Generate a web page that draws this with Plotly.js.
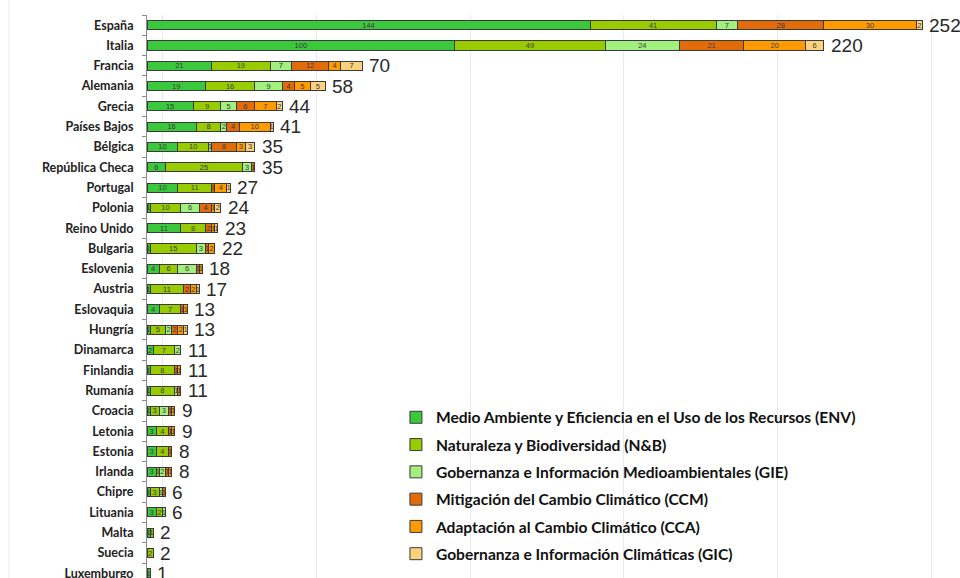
<!DOCTYPE html>
<html>
<head>
<meta charset="utf-8">
<script src="https://cdn.plot.ly/plotly-3.0.1.min.js"></script>
<style>html,body{margin:0;padding:0;background:#fff;}#chart{width:960px;height:578px;}</style>
</head>
<body>
<div id="chart"></div>
<script>
const countries = ["España","Italia","Francia","Alemania","Grecia","Países Bajos","Bélgica","República Checa","Portugal","Polonia","Reino Unido","Bulgaria","Eslovenia","Austria","Eslovaquia","Hungría","Dinamarca","Finlandia","Rumanía","Croacia","Letonia","Estonia","Irlanda","Chipre","Lituania","Malta","Suecia","Luxemburgo"];
const env = [144,100,21,19,15,16,10,6,10,1,11,1,4,1,4,1,2,1,1,1,3,3,3,1,3,1,0,1];
const nb  = [41,49,19,16,9,8,10,25,11,10,8,15,6,11,7,5,7,8,8,3,4,4,1,3,2,1,2,0];
const gie = [7,24,7,9,5,2,1,3,0,6,0,3,6,0,0,2,2,0,1,3,0,0,2,1,1,0,0,0];
const ccm = [28,21,12,4,6,4,8,1,1,4,2,1,1,2,1,2,0,1,1,1,1,1,1,1,0,0,0,0];
const cca = [30,20,4,5,7,10,3,0,4,1,1,2,1,2,1,2,0,1,0,1,1,0,1,0,0,0,0,0];
const gic = [2,6,7,5,2,1,3,0,1,2,1,0,0,1,0,1,0,0,0,0,0,0,0,0,0,0,0,0];
const seriesNames = ["Medio Ambiente y Eficiencia en el Uso de los Recursos (ENV)","Naturaleza y Biodiversidad (N&B)","Gobernanza e Información Medioambientales (GIE)","Mitigación del Cambio Climático (CCM)","Adaptación al Cambio Climático (CCA)","Gobernanza e Información Climáticas (GIC)"];
const seriesColors = ["#3cc83c","#99cc00","#a2f07e","#e36c0a","#ff9a00","#fcd27e"];

const seriesVals = [env,nb,gie,ccm,cca,gic];
const totals = countries.map((c,i)=>seriesVals.reduce((s,a)=>s+a[i],0));

const traces = seriesVals.map((vals,k)=>({
  type:'bar', orientation:'h', name: seriesNames[k], legendgroup:'g'+k,
  y: countries, x: vals,
  text: vals.map(v=> v>0 ? String(v) : ''),
  textposition:'inside', insidetextanchor:'middle', textangle:0, constraintext:'none',
  textfont:{size:7.5, color:'#3a3a3a', family:'Liberation Sans, Arial'},
  marker:{color: seriesColors[k], line:{color:'#3a3a3a', width:1}},
  hoverinfo:'x+y+name'
}));

const annotations = countries.map((c,i)=>({
  x: totals[i], y: c, xref:'x', yref:'y', text: String(totals[i]),
  showarrow:false, xanchor:'left', yanchor:'middle', xshift:5,
  font:{size:19, color:'#2a2a2a', family:'Liberation Sans, Arial'}
}));

const layout = {
  width:960, height:578,
  margin:{l:147, r:10, t:15, b:0},
  paper_bgcolor:'#fff', plot_bgcolor:'#fff',
  barmode:'stack', bargap:0.55,
  showlegend:true,
  annotations: annotations,
  legend:{x:0.31, xanchor:'left', y:0.315, yanchor:'top', traceorder:'grouped', tracegroupgap:4,
    font:{family:'Lato, Open Sans, sans-serif', size:15.6, color:'#111', weight:'bold'},
    bgcolor:'rgba(255,255,255,0)', itemwidth:30},
  xaxis:{range:[0,261], tickvals:[5,55,105,155,205,255], showticklabels:false, showgrid:true,
    gridcolor:'#e8e8f3', gridwidth:1, zeroline:false, showline:false, ticks:''},
  yaxis:{type:'category', autorange:false, range:[27.23,-0.5], showline:true, linecolor:'#8c8c8c', linewidth:1,
    ticks:'outside', tickson:'boundaries', ticklen:4, tickcolor:'#8c8c8c', showgrid:false,
    tickfont:{family:'Lato, Open Sans, sans-serif', size:12.5, color:'#222', weight:'bold'},
    ticklabelstandoff:10},
  shapes:[{type:'line', xref:'paper', yref:'paper', x0:-0.172, x1:-0.172, y0:0, y1:1.03, line:{color:'#e8e8f3', width:1}}],
  font:{family:'Liberation Sans, Arial'}
};
Plotly.newPlot('chart', traces, layout, {displayModeBar:false, staticPlot:true});
</script>
</body>
</html>
